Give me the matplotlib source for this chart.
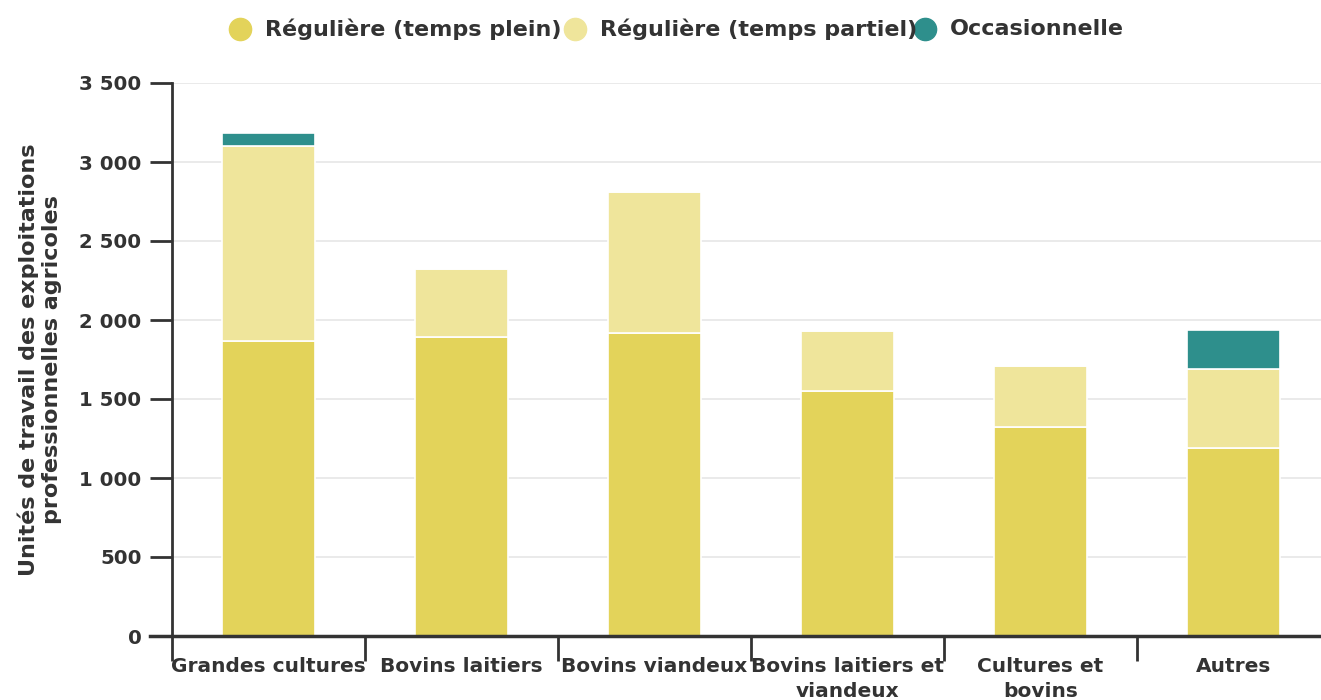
import matplotlib
matplotlib.use("Agg")
import matplotlib.pyplot as plt
from matplotlib.lines import Line2D
import numpy as np

categories = ["Grandes cultures", "Bovins laitiers", "Bovins viandeux",
              "Bovins laitiers et\nviandeux", "Cultures et\nbovins", "Autres"]
plein = [1870, 1892, 1918, 1551, 1323, 1190]
partiel = [1230, 431, 892, 379, 386, 500]
occasionnelle = [85, 0, 0, 0, 0, 247]
series_names = ["Régulière (temps plein)", "Régulière (temps partiel)", "Occasionnelle"]
colors = ["#E3D35A", "#EFE59B", "#2E8F8C"]
yticks = [0, 500, 1000, 1500, 2000, 2500, 3000, 3500]
ytick_labels = ["0", "500", "1 000", "1 500", "2 000", "2 500", "3 000", "3 500"]

plt.rcParams['font.family'] = ['DejaVu Sans']
W, H = 1321, 700
fig = plt.figure(figsize=(W/100, H/100), dpi=100)
left, right, top, bottom = 172, 1321, 83, 636
ax = fig.add_axes([left/W, 1-bottom/H, (right-left)/W, (bottom-top)/H])

band = 193.0
xmax = (right-left)/band
x = np.arange(len(categories)) + 0.5
bw = 0.485
bot = np.zeros(len(categories))
for vals, c in zip([plein, partiel, occasionnelle], colors):
    v = np.array(vals, dtype=float)
    ax.bar(x, v, bw, bottom=bot, color=c, edgecolor="white", linewidth=1.2, zorder=3)
    bot += v

ax.set_xlim(0, xmax)
ax.set_ylim(0, 3500)
ax.set_yticks(yticks)
ax.set_yticklabels(ytick_labels, fontsize=14.2, fontweight="bold", color="#333333")
ax.yaxis.grid(True, color="#e6e6e6", linewidth=1.2, zorder=0)
ax.tick_params(axis="y", length=16, width=2, color="#333333", pad=6)

ax.set_xticks(np.arange(0, 6))
ax.set_xticklabels([])
ax.tick_params(axis="x", which="major", length=18, width=2, color="#333333", direction="out")
ax.set_xticks(x, minor=True)
ax.set_xticklabels(categories, minor=True, fontsize=14.5, fontweight="bold", color="#333333")
ax.tick_params(axis="x", which="minor", length=0, pad=15)
for lbl in ax.get_xticklabels(minor=True):
    lbl.set_linespacing(1.4)
    lbl.set_verticalalignment("top")

for s in ["top", "right"]:
    ax.spines[s].set_visible(False)
ax.spines["left"].set_color("#333333")
ax.spines["left"].set_linewidth(2)
ax.spines["bottom"].set_visible(False)
ax.add_line(Line2D([-22/(right-left), 1], [0, 0], transform=ax.transAxes,
                   color="#333333", linewidth=2.5, clip_on=False, zorder=5))

ax.set_ylabel("Unités de travail des exploitations\nprofessionnelles agricoles",
              fontsize=16, fontweight="bold", color="#333333", linespacing=1.2)
ax.yaxis.set_label_coords(-(172-62)/(right-left), 0.5)

# legend drawn manually at top
leg_marker_x = [240, 575, 925]
for mx, c, name in zip(leg_marker_x, colors, series_names):
    fig.add_artist(Line2D([mx/W], [1-29/H], marker="o", linestyle="none", markersize=16,
                          markerfacecolor=c, markeredgecolor=c, transform=fig.transFigure))
    fig.text((mx+25)/W, 1-29/H, name, fontsize=16, fontweight="bold", color="#333333",
             ha="left", va="center")

fig.savefig("out.png", dpi=100)
